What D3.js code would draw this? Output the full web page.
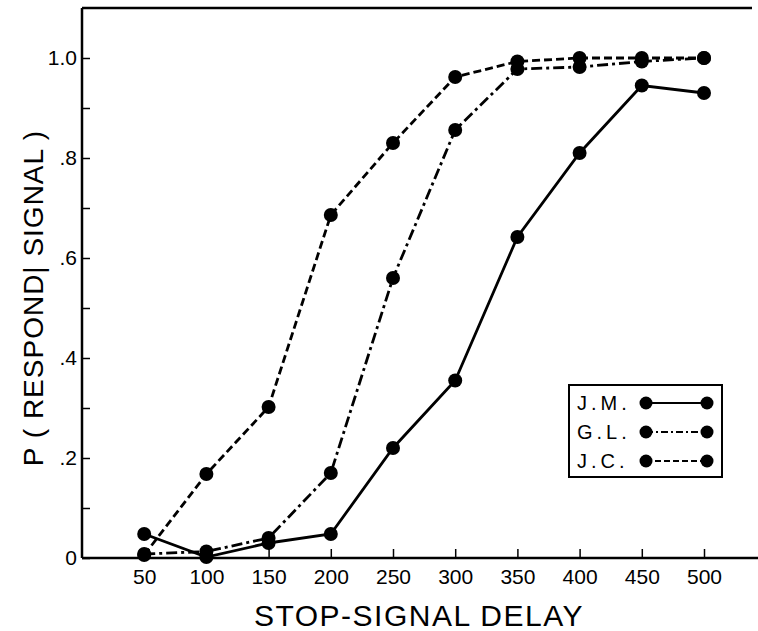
<!DOCTYPE html>
<html><head><meta charset="utf-8">
<script src="https://cdn.jsdelivr.net/npm/d3@7"></script>
<style>body{margin:0;background:#fff}svg{display:block}text{font-family:"Liberation Sans",Arial,sans-serif;fill:#000}</style>
</head><body><div id="chart"></div>
<script>
const delays = [50,100,150,200,250,300,350,400,450,500];
const jm = [0.048,0.002,0.03,0.048,0.22,0.355,0.642,0.81,0.945,0.93];
const gl = [0.008,0.013,0.04,0.17,0.56,0.856,0.978,0.982,0.993,1.0];
const jc = [0.006,0.168,0.302,0.686,0.83,0.962,0.993,1.0,1.0,1.0];
const seriesNames = ["J.M.","G.L.","J.C."];
const xTicks = [50,100,150,200,250,300,350,400,450,500];
const yTicks = [0,0.1,0.2,0.3,0.4,0.5,0.6,0.7,0.8,0.9,1.0];
const yTickLabels = {0:"0",0.2:".2",0.4:".4",0.6:".6",0.8:".8",1:"1.0"};
const dashes = ["none","11,4,3,4","8,4"];

const W=758,H=631;
const svg=d3.select("#chart").append("svg").attr("width",W).attr("height",H);
const x=d3.scaleLinear().domain([0,500]).range([82,704]);
const y=d3.scaleLinear().domain([0,1.1]).range([558,8]);

// frame
svg.append("line").attr("x1",x(0)).attr("x2",x(0)).attr("y1",y(1.1)).attr("y2",y(0)).attr("stroke","#000").attr("stroke-width",2.5);
svg.append("line").attr("x1",x(0)).attr("x2",752).attr("y1",y(1.1)).attr("y2",y(1.1)).attr("stroke","#000").attr("stroke-width",2.5);
svg.append("line").attr("x1",x(0)).attr("x2",758).attr("y1",y(0)).attr("y2",y(0)).attr("stroke","#000").attr("stroke-width",2.5);

// x axis
const xa=svg.append("g").attr("transform",`translate(0,${y(0)})`)
 .call(d3.axisBottom(x).tickValues(xTicks).tickSize(-9).tickPadding(11).tickFormat(d3.format("d")));
xa.select(".domain").remove();
xa.selectAll("line").attr("stroke-width",1.5);
xa.selectAll("text").attr("font-size",21).style("font-family","Liberation Sans, Arial, sans-serif");

// y axis
const ya=svg.append("g").attr("transform",`translate(${x(0)},0)`)
 .call(d3.axisLeft(y).tickValues(yTicks).tickSize(-8).tickPadding(5).tickFormat(d=>{const k=Math.round(d*10)/10;return yTickLabels[k]!==undefined?yTickLabels[k]:"";}));
ya.select(".domain").remove();
ya.selectAll("line").attr("stroke-width",1.5);
ya.selectAll("text").attr("font-size",21).style("font-family","Liberation Sans, Arial, sans-serif");

// titles
svg.append("text").attr("x",419).attr("y",626).attr("text-anchor","middle").attr("font-size",30).attr("letter-spacing",1.5).text("STOP-SIGNAL DELAY");
svg.append("text").attr("transform","translate(43,298) rotate(-90)").attr("text-anchor","middle").attr("font-size",28).attr("letter-spacing",1).text("P ( RESPOND| SIGNAL )");

// series
const all=[jm,gl,jc];
const line=d3.line().x((d,i)=>x(delays[i])).y(d=>y(d));
all.forEach((s,k)=>{
  svg.append("path").datum(s).attr("d",line).attr("fill","none").attr("stroke","#000").attr("stroke-width",2.8).attr("stroke-dasharray",dashes[k]);
  svg.append("g").selectAll("circle").data(s).join("circle").attr("cx",(d,i)=>x(delays[i])).attr("cy",d=>y(d)).attr("r",7).attr("fill","#000");
});

// legend
const lg=svg.append("g");
lg.append("rect").attr("x",569).attr("y",385).attr("width",153).attr("height",92).attr("fill","#fff").attr("stroke","#000").attr("stroke-width",2);
seriesNames.forEach((n,k)=>{
  const yy=403+k*29;
  lg.append("text").attr("x",577).attr("y",yy+7).attr("font-size",20).attr("letter-spacing",4).text(n);
  lg.append("line").attr("x1",646).attr("x2",707).attr("y1",yy).attr("y2",yy).attr("stroke","#000").attr("stroke-width",2).attr("stroke-dasharray",dashes[k]==="none"?null:(k===1?"7,3,2,3":"6,3"));
  lg.append("circle").attr("cx",646).attr("cy",yy).attr("r",6.5).attr("fill","#000");
  lg.append("circle").attr("cx",707).attr("cy",yy).attr("r",6.5).attr("fill","#000");
});
</script></body></html>
